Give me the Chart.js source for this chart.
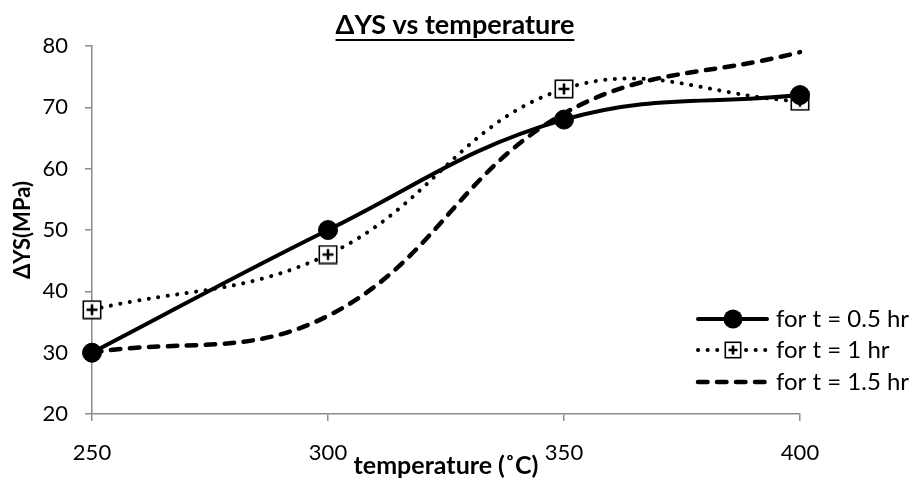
<!DOCTYPE html>
<html><head><meta charset="utf-8">
<script src="https://cdn.jsdelivr.net/npm/chart.js@4/dist/chart.umd.min.js"></script>
<style>html,body{margin:0;padding:0;background:#fff}#wrap{width:912px;height:483px}</style>
</head><body><div id="wrap"><canvas id="c" width="912" height="483"></canvas></div>
<script>
// ---- data ----
const temperatures = [250, 300, 350, 400];
const ys05 = [30, 50, 68, 72];
const ys1 = [37, 46, 73, 71];
const ys15 = [30, 36, 69, 79];
const seriesLabels = ['for t = 0.5 hr', 'for t = 1 hr', 'for t = 1.5 hr'];
const xTickValues = [250, 300, 350, 400];
const yTickValues = [20, 30, 40, 50, 60, 70, 80];
const chartTitle = 'ΔYS vs temperature';
const xTitle = 'temperature (˚C)';
const yTitle = 'ΔYS(MPa)';

const FONT = 'Lato, "DejaVu Sans", sans-serif';
const AXIS = '#8c8c8c';

function makeSquarePlus(size) {
  const c = document.createElement('canvas');
  c.width = size; c.height = size;
  const g = c.getContext('2d');
  g.fillStyle = '#fff'; g.fillRect(1, 1, size - 2, size - 2);
  g.strokeStyle = '#000'; g.lineWidth = 1.6; g.strokeRect(1.3, 1.3, size - 2.6, size - 2.6);
  g.lineWidth = 2.6; g.beginPath();
  g.moveTo(size / 2, 4.5); g.lineTo(size / 2, size - 4.5);
  g.moveTo(4.5, size / 2); g.lineTo(size - 4.5, size / 2);
  g.stroke();
  return c;
}
const squarePlus = makeSquarePlus(20);
const squarePlusSmall = makeSquarePlus(18);

const pts = ys => temperatures.map((t, i) => ({x: t, y: ys[i]}));

const datasets = [
  {label: seriesLabels[0], data: pts(ys05), borderColor: '#000', backgroundColor: '#000',
   borderWidth: 4, pointStyle: 'circle', pointRadius: 9.5, pointBorderWidth: 1,
   pointBackgroundColor: '#000', pointBorderColor: '#000', borderDash: []},
  {label: seriesLabels[1], data: pts(ys1), borderColor: '#000', backgroundColor: '#fff',
   borderWidth: 4, pointStyle: squarePlus, pointRadius: 10, borderDash: [0.1, 9.5]},
  {label: seriesLabels[2], data: pts(ys15), borderColor: '#000', backgroundColor: '#000',
   borderWidth: 4.5, pointRadius: 0, borderDash: [9.5, 9.5]}
];
datasets.forEach(d => {
  d.tension = 0.4; d.fill = false; d.clip = false;
  d.borderCapStyle = 'round'; d.borderJoinStyle = 'round';
});

const decor = {
  id: 'decor',
  afterDraw(chart) {
    const ctx = chart.ctx;
    ctx.save();
    // title with underline
    ctx.fillStyle = '#000';
    ctx.font = 'bold 27px ' + FONT;
    ctx.textAlign = 'center'; ctx.textBaseline = 'middle';
    const tx = 455, ty = 25;
    ctx.fillText(chartTitle, tx, ty);
    const w = ctx.measureText(chartTitle).width;
    ctx.strokeStyle = '#000'; ctx.lineWidth = 2.2;
    ctx.beginPath(); ctx.moveTo(tx - w / 2, ty + 15); ctx.lineTo(tx + w / 2, ty + 15); ctx.stroke();
    // legend
    const rows = [319, 350, 382];
    const x0 = 698, x1 = 767, mx = 733, textX = 776;
    chart.data.datasets.forEach((ds, i) => {
      const y = rows[i];
      ctx.save();
      ctx.strokeStyle = ds.borderColor; ctx.lineWidth = ds.borderWidth;
      ctx.lineCap = 'round'; ctx.setLineDash(ds.borderDash || []);
      ctx.beginPath(); ctx.moveTo(x0, y); ctx.lineTo(x1, y); ctx.stroke();
      ctx.restore();
      if (ds.pointStyle === 'circle') {
        ctx.fillStyle = '#000'; ctx.beginPath(); ctx.arc(mx, y, 9.5, 0, Math.PI * 2); ctx.fill();
      } else if (ds.pointRadius > 0) {
        ctx.drawImage(squarePlusSmall, mx - 9, y - 9);
      }
      ctx.fillStyle = '#000';
      ctx.font = '24px ' + FONT;
      ctx.textAlign = 'left'; ctx.textBaseline = 'middle';
      ctx.fillText(ds.label, textX, y);
    });
    ctx.restore();
  }
};

new Chart(document.getElementById('c'), {
  type: 'line',
  data: {datasets},
  plugins: [decor],
  options: {
    responsive: false, animation: false, devicePixelRatio: 1,
    layout: {padding: {top: 46, right: 112, left: 0, bottom: 0}},
    plugins: {legend: {display: false}, title: {display: false}, tooltip: {enabled: false}},
    scales: {
      x: {
        type: 'linear', min: 250, max: 400,
        afterBuildTicks: s => { s.ticks = xTickValues.map(v => ({value: v})); },
        afterFit: s => { s.height = 69; },
        grid: {drawOnChartArea: false, drawTicks: true, tickLength: 7, color: AXIS, lineWidth: 1.5},
        border: {display: true, color: AXIS, width: 1.5},
        ticks: {color: '#000', font: {family: FONT, size: 22}, padding: 19, maxRotation: 0},
        title: {display: true, text: xTitle, color: '#000',
                font: {family: FONT, size: 25, weight: 'bold'}, padding: {top: 0, bottom: 2}}
      },
      y: {
        type: 'linear', min: 20, max: 80,
        afterBuildTicks: s => { s.ticks = yTickValues.map(v => ({value: v})); },
        afterFit: s => { s.width = 92; },
        grid: {drawOnChartArea: false, drawTicks: true, tickLength: 7, color: AXIS, lineWidth: 1.5},
        border: {display: true, color: AXIS, width: 1.5},
        ticks: {color: '#000', font: {family: FONT, size: 22}, padding: 17},
        title: {display: true, text: yTitle, color: '#000',
                font: {family: FONT, size: 22, weight: 'bold'}, padding: {top: 10, bottom: 0}}
      }
    }
  }
});
</script></body></html>
